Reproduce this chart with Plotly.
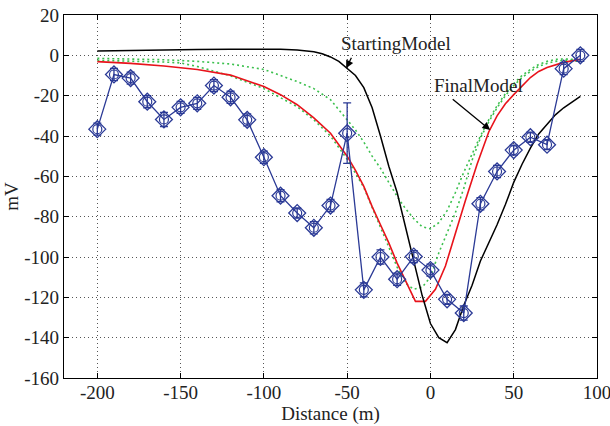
import plotly.graph_objects as go

# ---- measured data (blue, with error bars) ----
dist = [-200, -190, -180, -170, -160, -150, -140, -130, -120, -110,
        -100, -90, -80, -70, -60, -50, -40, -30, -20, -10,
        0, 10, 20, 30, 40, 50, 60, 70, 80, 90]
measured = [-36.6, -9.5, -11.3, -23, -31.8, -25.8, -23.8, -15, -20.8, -32,
            -50.5, -69.6, -78.2, -85.5, -74.5, -38.6, -116.3, -100, -111, -99.8,
            -106.5, -121, -127.8, -73.6, -57.6, -47, -40.6, -44.3, -6.6, 0]
meas_err = [3, 3, 3, 3, 3.5, 3, 3, 3, 3, 3,
            3, 3, 2.5, 3, 3, 15, 3.5, 3.5, 3, 3,
            3, 2.5, 3.5, 3, 3, 2.5, 2.5, 2.5, 3, 3]

# ---- starting model (black) ----
start_x = [-200, -180, -160, -140, -120, -100, -90, -80, -70, -65, -60, -55, -50, -45,
           -40, -35, -30, -25, -20, -15, -10, -5, 0, 5, 10, 15, 20, 25, 30, 35,
           40, 45, 50, 55, 60, 65, 70, 75, 80, 85, 90]
start_y = [2.2, 2.5, 2.7, 2.9, 3.0, 3.1, 3.0, 2.6, 1.8, 0.8, -0.8, -3, -6.3, -10,
           -16, -26, -40, -55, -68, -85, -101, -119, -133, -140, -142.5, -136, -124, -114, -102, -93,
           -84, -74, -63, -54, -46, -39, -34, -29.5, -26, -23, -20.4]

# ---- final model (red) ----
final_x = [-200, -180, -160, -140, -120, -100, -90, -80, -70, -60, -50, -45, -40, -35,
           -30, -25, -20, -15, -9, -3, 3, 9, 15, 21, 28, 35, 40, 45, 50, 55, 60, 65,
           70, 80, 90]
final_y = [-3.1, -4, -5.3, -7, -9.8, -15.5, -19.5, -24.5, -31, -38.6, -50, -57, -65, -75,
           -84, -93, -103, -112, -122, -122, -116, -104.5, -88, -72, -54, -38, -30, -24, -19.5, -15, -11, -8,
           -6, -3.5, -2]

# ---- green dotted curves ----
g1_x = [-200, -180, -160, -140, -120, -100, -80, -70, -60, -55, -50, -45, -40, -35, -30,
        -25, -20, -15, -10, -5, 0, 5, 10, 15, 20, 25, 30, 35, 40, 45, 50, 55, 60, 65,
        70, 75, 80, 85, 90]
g1_y = [-1.5, -1.8, -2.2, -3, -4.3, -7, -13, -16.5, -22, -27, -32, -37, -43, -50, -56,
        -63, -70, -76, -81, -85, -86, -83, -77, -68, -58, -49, -40, -32, -25, -19, -14, -10, -7, -4.5,
        -3, -2, -1.8, -2, -3]

g2_x = [-200, -180, -160, -150, -140, -120, -100, -80, -70, -60, -50, -40, -30, -25, -20,
        -15, -10, -5, 0, 5, 10, 15, 20, 25, 30, 35, 40, 45, 50, 55, 60, 65, 70, 75,
        80, 85, 90]
g2_y = [-2.5, -2.8, -3.3, -3.8, -5.5, -10.2, -16.5, -25.5, -32, -40, -51.5, -65.5, -85, -94.5, -105,
        -113, -116, -115, -110, -98, -88, -78, -66, -52, -41, -33, -26, -20, -15, -11, -8, -5.5, -4, -3,
        -2.5, -2.5, -3.2]

x_ticks = [-200, -150, -100, -50, 0, 50, 100]
y_ticks = [20, 0, -20, -40, -60, -80, -100, -120, -140, -160]

BLUE = "#2B3A96"
GREEN = "#3CC04E"
RED = "#E8131B"
FONT = "Liberation Serif"
TXT = "#222222"

fig = go.Figure()

green_dash = "2px,3px"
fig.add_trace(go.Scatter(x=g1_x, y=g1_y, mode="lines",
                         line=dict(color=GREEN, width=1.6, dash=green_dash), hoverinfo="skip"))
fig.add_trace(go.Scatter(x=g2_x, y=g2_y, mode="lines",
                         line=dict(color=GREEN, width=1.6, dash=green_dash), hoverinfo="skip"))
fig.add_trace(go.Scatter(x=final_x, y=final_y, mode="lines",
                         line=dict(color=RED, width=1.6)))
fig.add_trace(go.Scatter(x=start_x, y=start_y, mode="lines",
                         line=dict(color="black", width=1.5)))
fig.add_trace(go.Scatter(x=dist, y=measured, mode="lines+markers",
                         line=dict(color=BLUE, width=1.3),
                         marker=dict(symbol="diamond-open", size=13, color=BLUE,
                                     line=dict(width=1.3)),
                         error_y=dict(type="data", array=meas_err, visible=True,
                                      color=BLUE, thickness=1.3, width=4)))
fig.add_trace(go.Scatter(x=dist, y=measured, mode="markers",
                         marker=dict(symbol="circle-open", size=9, color=BLUE,
                                     line=dict(width=1.2))))

axis_common = dict(
    showline=True, linecolor="black", linewidth=1.3, mirror="ticks",
    ticks="inside", ticklen=5, tickcolor="black", tickwidth=1,
    showgrid=True, gridcolor="#555555", gridwidth=1, griddash="1px,3px",
    zeroline=False, automargin=False, ticklabeloverflow="allow",
    tickfont=dict(family=FONT, size=19, color=TXT),
)

fig.update_xaxes(range=[-220, 100], tickvals=x_ticks, ticktext=[str(v) for v in x_ticks],
                 ticklabelstandoff=-3,
                 title=dict(text="Distance (m)", font=dict(family=FONT, size=19, color=TXT),
                            standoff=0),
                 **axis_common)
fig.update_yaxes(range=[-160, 20], tickvals=y_ticks, ticktext=[str(v) for v in y_ticks],
                 title=dict(text="mV", font=dict(family=FONT, size=19, color=TXT),
                            standoff=0),
                 **axis_common)

fig.add_annotation(x=-50.6, y=-6.4, ax=6, ay=-12, xref="x", yref="y",
                   text="", showarrow=True, arrowhead=2, arrowsize=1.2, arrowwidth=1.3,
                   arrowcolor="black", standoff=0)
fig.add_annotation(x=-20.7, y=6.1, xref="x", yref="y", text="StartingModel",
                   showarrow=False, font=dict(family=FONT, size=19, color=TXT))
fig.add_annotation(x=35.9, y=-37, ax=-39, ay=-32, xref="x", yref="y",
                   text="", showarrow=True, arrowhead=2, arrowsize=1.2, arrowwidth=1.3,
                   arrowcolor="black", standoff=0)
fig.add_annotation(x=28.9, y=-15.1, xref="x", yref="y", text="FinalModel",
                   showarrow=False, font=dict(family=FONT, size=19, color=TXT))

fig.update_layout(
    width=610, height=426,
    margin=dict(l=64, r=13, t=15, b=48),
    paper_bgcolor="white", plot_bgcolor="white",
    showlegend=False,
)

# remove the default 8px body margin so the figure fills the window exactly
fig.write_html("out.html",
               config={"displayModeBar": False},
               post_script="document.body.style.margin='0px';document.body.style.overflow='hidden';")
